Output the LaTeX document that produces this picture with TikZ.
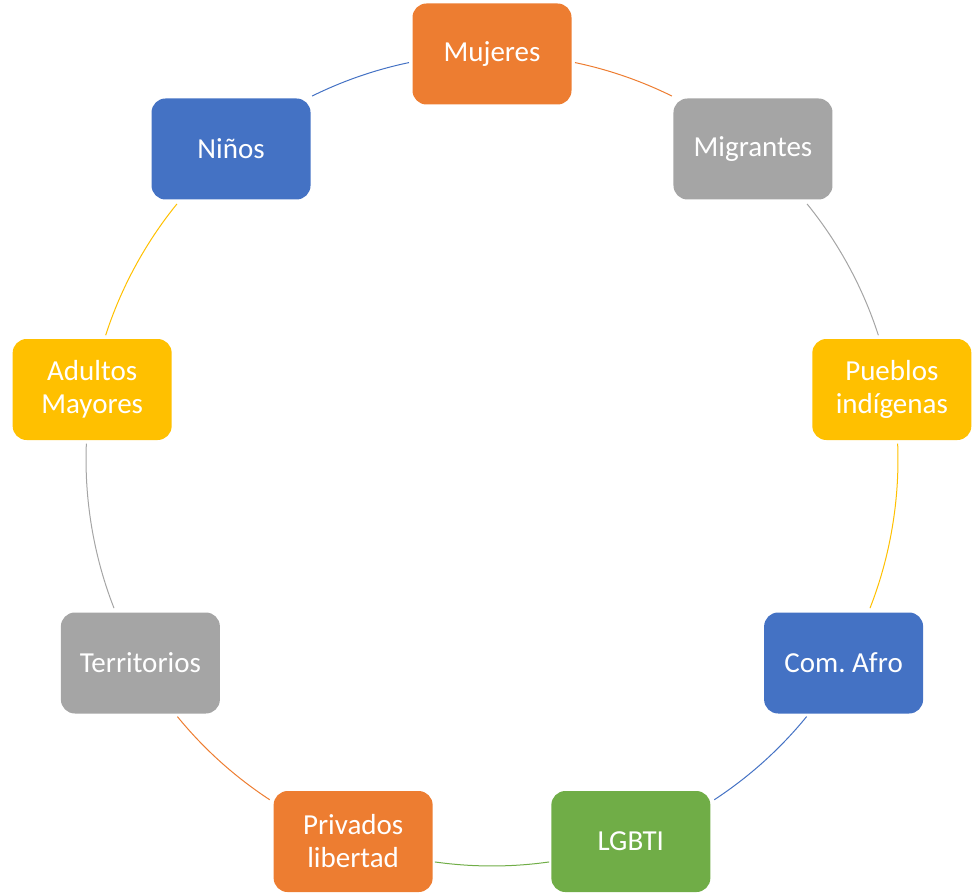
\documentclass[tikz,border=0pt]{standalone}
\usepackage{fontspec}
\setmainfont{Carlito}
\usetikzlibrary{calc}
\frenchspacing
\definecolor{cOrange}{HTML}{ED7D31}
\definecolor{cGray}{HTML}{A5A5A5}
\definecolor{cGold}{HTML}{FFC000}
\definecolor{cBlue}{HTML}{4472C4}
\definecolor{cGreen}{HTML}{70AD47}
\begin{document}
\begin{tikzpicture}[x=1pt,y=1pt,
  box/.style={rectangle, rounded corners=14pt, minimum width=159pt, minimum height=101pt,
    text=white, font=\fontsize{29}{33}\selectfont, align=center, inner sep=0pt},
  link/.style={line width=1pt, looseness=0.855}]
\useasboundingbox (0,0) rectangle (974,-893);
\coordinate (C) at (492,-460);
\node[box, fill=cOrange] (n1) at ($(C)+(90:406)$) {Mujeres};
\node[box, fill=cGray]   (n2) at ($(C)+(50:406)$) {Migrantes};
\node[box, fill=cGold]   (n3) at ($(C)+(10:406)$) {Pueblos\\indígenas};
\node[box, fill=cBlue]   (n4) at ($(C)+(-30:406)$) {Com.\ Afro};
\node[box, fill=cGreen]  (n5) at ($(C)+(-70:406)$) {LGBTI};
\node[box, fill=cOrange] (n6) at ($(C)+(-110:406)$) {Privados\\libertad};
\node[box, fill=cGray]   (n7) at ($(C)+(-150:406)$) {Territorios};
\node[box, fill=cGold]   (n8) at ($(C)+(170:406)$) {Adultos\\Mayores};
\node[box, fill=cBlue]   (n9) at ($(C)+(130:406)$) {Niños};
% arc end points on the circle
\coordinate (s1) at ($(C)+(78.2:406)$);  \coordinate (e1) at ($(C)+(63.7:406)$);
\coordinate (s2) at ($(C)+(39.1:406)$);  \coordinate (e2) at ($(C)+(17.9:406)$);
\coordinate (s3) at ($(C)+(2.3:406)$);   \coordinate (e3) at ($(C)+(-21.4:406)$);
\coordinate (s4) at ($(C)+(-39.2:406)$); \coordinate (e4) at ($(C)+(-56.8:406)$);
\coordinate (s5) at ($(C)+(-81.9:406)$); \coordinate (e5) at ($(C)+(-98.1:406)$);
\coordinate (s6) at ($(C)+(236.8:406)$); \coordinate (e6) at ($(C)+(219.2:406)$);
\coordinate (s7) at ($(C)+(201.4:406)$); \coordinate (e7) at ($(C)+(177.7:406)$);
\coordinate (s8) at ($(C)+(162.1:406)$); \coordinate (e8) at ($(C)+(140.9:406)$);
\coordinate (s9) at ($(C)+(116.3:406)$); \coordinate (e9) at ($(C)+(101.8:406)$);
\draw[link, cOrange] (s1) to[bend left=7.25]  (e1);
\draw[link, cGray]   (s2) to[bend left=10.6]  (e2);
\draw[link, cGold]   (s3) to[bend left=11.85] (e3);
\draw[link, cBlue]   (s4) to[bend left=8.8]   (e4);
\draw[link, cGreen]  (s5) to[bend left=8.1]   (e5);
\draw[link, cOrange] (s6) to[bend left=8.8]   (e6);
\draw[link, cGray]   (s7) to[bend left=11.85] (e7);
\draw[link, cGold]   (s8) to[bend left=10.6]  (e8);
\draw[link, cBlue]   (s9) to[bend left=7.25]  (e9);
\end{tikzpicture}
\end{document}
